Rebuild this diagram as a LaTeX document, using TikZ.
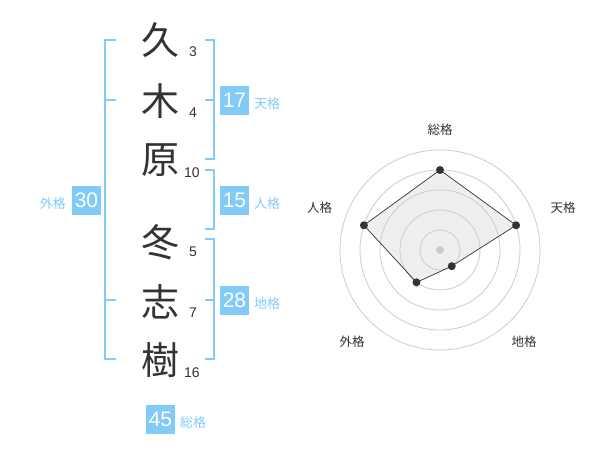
\documentclass[tikz,border=0pt]{standalone}
\usepackage{fontspec}
\usetikzlibrary{calc}
\setmainfont{Liberation Sans}
\newfontfamily\jp{Noto Sans CJK JP}
\definecolor{lb}{HTML}{82CBF9}
\definecolor{dk}{HTML}{333333}
\definecolor{ring}{HTML}{CCCCCC}
\definecolor{area}{HTML}{EFEFEF}
\begin{document}
\begin{tikzpicture}[x=1pt,y=-1pt,
  kanji/.style={font=\jp\fontsize{38}{38}\selectfont, text=dk, inner sep=0},
  strokes/.style={font=\fontsize{14}{14}\selectfont, text=dk, inner sep=0},
  numbox/.style={fill=lb, text=white, minimum width=29pt, minimum height=29pt, inner sep=0, font=\fontsize{21}{21}\selectfont},
  kaku/.style={font=\jp\fontsize{13}{13}\selectfont, text=lb, inner sep=0},
  brk/.style={draw=lb, line width=2pt},
  axlabel/.style={font=\jp\fontsize{12.5}{12.5}\selectfont, text=dk, inner sep=0},
  ringline/.style={draw=ring, line width=0.8pt},
  dot/.style={circle, fill=dk, inner sep=0, minimum size=8pt},
]
\useasboundingbox[fill=white] (0,0) rectangle (600,470);

% kanji
\node[kanji] (k1) at (160,40) {久};
\node[kanji] (k2) at (160,101) {木};
\node[kanji] (k3) at (160,160) {原};
\node[kanji] (k4) at (160,242) {冬};
\node[kanji] (k5) at (160,302) {志};
\node[kanji] (k6) at (160,360) {樹};

% stroke counts
\node[strokes] (s1) at (193,52) {3};
\node[strokes] (s2) at (193,113) {4};
\node[strokes] (s3) at (192,173) {10};
\node[strokes] (s4) at (193,252) {5};
\node[strokes] (s5) at (193,313) {7};
\node[strokes] (s6) at (192,373) {16};

% brackets
\draw[brk] (116,40) -- (105,40) -- (105,359) -- (116,359);
\draw[brk] (105,100) -- (116,100);
\draw[brk] (105,300) -- (116,300);
\draw[brk] (205,40) -- (214,40) -- (214,159) -- (205,159);
\draw[brk] (205,100) -- (214,100);
\draw[brk] (205,170) -- (214,170) -- (214,229) -- (205,229);
\draw[brk] (205,239) -- (214,239) -- (214,359) -- (205,359);
\draw[brk] (205,300) -- (214,300);

% score boxes
\node[numbox] (b17) at (234.5,100.5) {17};
\node[numbox] (b15) at (234.5,200.5) {15};
\node[numbox] (b28) at (234.5,300.5) {28};
\node[numbox] (b30) at (86.5,200.5) {30};
\node[numbox] (b45) at (160.5,419) {45};
\node[kaku, anchor=west] (l17) at (254,103.5) {天格};
\node[kaku, anchor=west] (l15) at (254,203.5) {人格};
\node[kaku, anchor=west] (l28) at (254,303.5) {地格};
\node[kaku, anchor=east] (l30) at (66,203.5) {外格};
\node[kaku, anchor=west] (l45) at (180,422.5) {総格};

% radar chart
\coordinate (c) at (440,250);
\coordinate (p1) at ($(c)+(0,-80)$);
\coordinate (p2) at ($(c)+(76.08,-24.72)$);
\coordinate (p3) at ($(c)+(11.76,16.18)$);
\coordinate (p4) at ($(c)+(-23.51,32.36)$);
\coordinate (p5) at ($(c)+(-76.08,-24.72)$);
\fill[area] (p1) -- (p2) -- (p3) -- (p4) -- (p5) -- cycle;
\foreach \r in {20,40,60,80,100} \draw[ringline] (c) circle[radius=\r];
\draw[dk, line width=0.7pt] (p1) -- (p2) -- (p3) -- (p4) -- (p5) -- cycle;
\node[circle, fill=ring, inner sep=0, minimum size=8pt] (cd) at (c) {};
\foreach \p in {p1,p2,p3,p4,p5} \node[dot] at (\p) {};
\node[axlabel] (a1) at (440,130) {総格};
\node[axlabel] (a2) at (563,208) {天格};
\node[axlabel] (a3) at (524,342) {地格};
\node[axlabel] (a4) at (352,342) {外格};
\node[axlabel] (a5) at (319.5,208) {人格};
\end{tikzpicture}
\end{document}
